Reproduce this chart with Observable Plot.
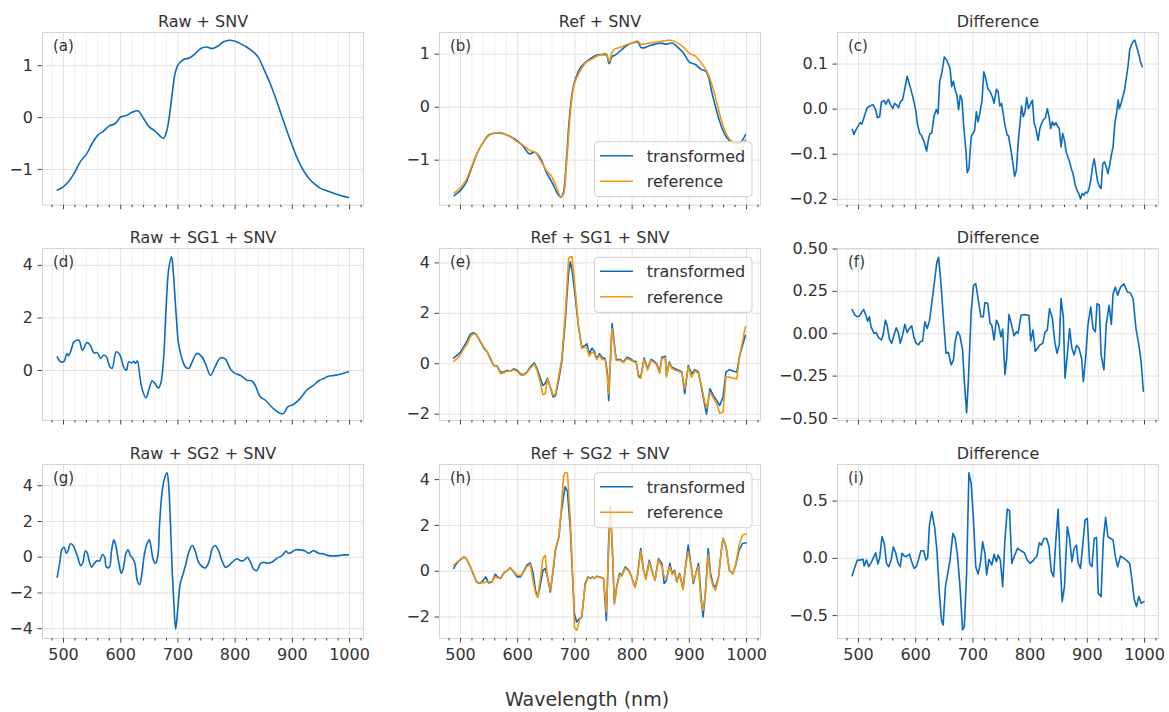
<!DOCTYPE html>
<html>
<head>
<meta charset="utf-8">
<script src="https://cdn.jsdelivr.net/npm/d3@7"></script>
<script src="https://cdn.jsdelivr.net/npm/@observablehq/plot@0.6"></script>
<style>
  body { margin: 0; background: #fff; }
  #wrap { position: relative; width: 1169px; height: 712px; overflow: hidden; background: #fff; font-family: "DejaVu Sans", sans-serif; color: #333; }
  #overlay { position: absolute; left: 0; top: 0; pointer-events: none; }
</style>
</head>
<body>
<div id="wrap"></div>
<script>
// ---------------- DATA ----------------
const titles = ["Raw + SNV", "Ref + SNV", "Difference",
                "Raw + SG1 + SNV", "Ref + SG1 + SNV", "Difference",
                "Raw + SG2 + SNV", "Ref + SG2 + SNV", "Difference"];
const panelLabels = ["(a)", "(b)", "(c)", "(d)", "(e)", "(f)", "(g)", "(h)", "(i)"];
const seriesNames = ["transformed", "reference"];
const xMajorTicks = [500, 600, 700, 800, 900, 1000];
const xMinorTicks = [480, 520, 540, 560, 580, 620, 640, 660, 680, 720, 740, 760, 780, 820, 840, 860, 880, 920, 940, 960, 980, 1020];
const xLabel = "Wavelength (nm)";

// (a) Raw + SNV : [nm, value]
const rawSNV = [[489,-1.40],[500,-1.33],[510,-1.22],[520,-1.05],[530,-0.84],[540,-0.71],[550,-0.50],[560,-0.34],[570,-0.26],[580,-0.16],[590,-0.12],[600,0.01],[610,0.04],[620,0.10],[630,0.13],[640,-0.02],[650,-0.18],[660,-0.26],[670,-0.37],[675,-0.40],[680,-0.28],[685,0.02],[690,0.46],[695,0.85],[700,1.01],[710,1.12],[720,1.15],[730,1.23],[740,1.33],[750,1.36],[760,1.33],[770,1.38],[780,1.46],[790,1.49],[800,1.47],[810,1.42],[820,1.36],[830,1.28],[840,1.17],[850,0.94],[860,0.69],[870,0.40],[880,0.08],[890,-0.24],[900,-0.54],[910,-0.82],[920,-1.03],[930,-1.19],[940,-1.29],[950,-1.37],[960,-1.41],[970,-1.45],[980,-1.49],[990,-1.52],[998,-1.54]];

// (b) Ref + SNV : [nm, transformed, reference]
const refSNV = [[489,-1.67,-1.62],[500,-1.57,-1.52],[510,-1.42,-1.37],[520,-1.13,-1.10],[530,-0.85,-0.85],[540,-0.66,-0.66],[550,-0.52,-0.53],[560,-0.49,-0.49],[570,-0.49,-0.48],[580,-0.52,-0.52],[590,-0.57,-0.58],[600,-0.64,-0.66],[610,-0.74,-0.72],[620,-0.88,-0.81],[630,-0.85,-0.85],[640,-0.97,-1.01],[650,-1.23,-1.19],[660,-1.42,-1.32],[670,-1.64,-1.57],[675,-1.70,-1.69],[680,-1.60,-1.64],[685,-1.01,-1.13],[690,-0.25,-0.38],[695,0.25,0.19],[700,0.50,0.47],[710,0.75,0.70],[720,0.86,0.85],[730,0.94,0.91],[740,0.99,0.97],[750,0.99,1.01],[755,0.99,1.01],[760,0.82,0.86],[765,0.96,1.04],[770,0.98,1.10],[780,1.07,1.13],[790,1.16,1.18],[800,1.21,1.21],[810,1.23,1.25],[815,1.13,1.19],[820,1.12,1.19],[830,1.16,1.21],[840,1.19,1.23],[850,1.21,1.24],[860,1.19,1.26],[870,1.21,1.26],[880,1.13,1.21],[890,1.02,1.13],[900,0.85,1.02],[910,0.81,0.97],[920,0.72,0.85],[930,0.66,0.69],[940,0.25,0.41],[950,-0.16,0.00],[960,-0.47,-0.38],[970,-0.63,-0.60],[980,-0.68,-0.69],[990,-0.66,-0.81],[998,-0.52,-0.62]];

// (c) Difference SNV : [nm, value]
const diffSNV = [[489,-0.045],[492,-0.056],[495,-0.047],[500,-0.036],[503,-0.030],[506,-0.033],[510,-0.017],[515,0.003],[520,0.007],[525,0.010],[530,-0.001],[533,-0.019],[537,-0.017],[540,0.016],[545,0.019],[548,0.011],[552,0.022],[556,0.010],[560,0.001],[563,0.013],[567,0.009],[570,0.003],[573,0.016],[577,0.021],[580,0.039],[585,0.073],[590,0.051],[595,0.027],[600,-0.002],[603,-0.032],[607,-0.054],[610,-0.058],[615,-0.073],[619,-0.093],[622,-0.069],[625,-0.054],[628,-0.053],[632,-0.016],[636,-0.001],[639,-0.010],[642,0.061],[646,0.083],[650,0.116],[655,0.107],[660,0.090],[663,0.050],[666,0.062],[669,0.042],[672,0.031],[675,-0.001],[678,0.031],[681,0.020],[684,-0.039],[688,-0.095],[690,-0.141],[693,-0.132],[697,-0.061],[700,-0.054],[703,-0.047],[706,-0.006],[709,-0.028],[712,-0.010],[716,0.020],[719,0.083],[722,0.070],[726,0.046],[730,0.039],[734,0.027],[737,0.013],[741,0.044],[744,0.039],[747,0.007],[750,0.013],[753,-0.010],[756,-0.036],[760,-0.058],[762,-0.058],[766,-0.087],[770,-0.121],[773,-0.149],[776,-0.136],[779,-0.076],[782,-0.036],[785,0.007],[788,-0.017],[791,-0.006],[794,0.026],[797,0.001],[800,0.009],[804,0.020],[807,-0.030],[810,-0.043],[814,-0.069],[817,-0.043],[820,-0.032],[823,-0.024],[827,-0.019],[830,0.001],[833,-0.016],[836,-0.043],[839,-0.028],[842,-0.036],[845,-0.030],[848,-0.038],[851,-0.043],[854,-0.084],[857,-0.054],[860,-0.069],[863,-0.095],[866,-0.106],[869,-0.117],[872,-0.132],[875,-0.143],[879,-0.169],[882,-0.180],[885,-0.187],[888,-0.199],[891,-0.187],[894,-0.191],[897,-0.184],[900,-0.186],[903,-0.176],[906,-0.158],[909,-0.128],[912,-0.110],[915,-0.136],[918,-0.161],[921,-0.171],[924,-0.176],[927,-0.121],[930,-0.117],[933,-0.128],[936,-0.143],[939,-0.124],[942,-0.102],[945,-0.084],[948,-0.032],[951,-0.010],[954,0.020],[956,0.001],[959,0.013],[962,0.027],[965,0.042],[968,0.068],[971,0.094],[974,0.131],[977,0.142],[980,0.150],[983,0.153],[986,0.139],[989,0.127],[993,0.105],[996,0.094]];

// (d) Raw + SG1 + SNV
const rawSG1 = [[489,0.52],[495,0.33],[501,0.35],[506,0.65],[509,0.56],[515,0.90],[518,1.09],[527,1.15],[533,0.77],[541,1.06],[547,0.96],[553,0.67],[559,0.68],[565,0.46],[570,0.58],[575,0.52],[581,0.14],[585,0.08],[592,0.71],[597,0.65],[601,0.46],[605,0.14],[610,0.01],[614,0.33],[619,0.29],[623,0.35],[626,0.27],[629,0.37],[634,-0.30],[638,-0.75],[644,-1.04],[650,-0.68],[655,-0.39],[659,-0.47],[666,-0.66],[670,-0.49],[675,0.46],[679,2.23],[684,3.87],[689,4.32],[691,4.00],[697,2.10],[701,1.03],[707,0.46],[713,0.14],[719,0.08],[725,0.33],[733,0.65],[742,0.52],[748,0.27],[757,-0.18],[765,0.14],[774,0.48],[783,0.43],[792,0.05],[800,-0.11],[809,-0.18],[821,-0.37],[829,-0.39],[835,-0.56],[844,-1.00],[853,-1.13],[861,-1.32],[870,-1.51],[879,-1.63],[885,-1.63],[892,-1.38],[902,-1.29],[914,-1.06],[925,-0.75],[937,-0.56],[946,-0.39],[955,-0.30],[963,-0.22],[972,-0.19],[984,-0.14],[998,-0.05]];

// (e) Ref + SG1 + SNV : [nm, transformed, reference]
const refSG1 = [[488,0.23,0.09],[494,0.33,0.20],[500,0.46,0.36],[506,0.69,0.60],[512,0.93,0.79],[517,1.17,1.06],[523,1.23,1.19],[528,1.15,1.15],[535,0.86,0.89],[541,0.62,0.66],[547,0.46,0.46],[552,0.20,0.26],[558,-0.07,-0.07],[564,-0.09,-0.12],[570,-0.33,-0.40],[576,-0.33,-0.36],[581,-0.26,-0.30],[587,-0.30,-0.30],[593,-0.20,-0.24],[599,-0.26,-0.30],[605,-0.40,-0.44],[610,-0.44,-0.46],[616,-0.33,-0.36],[622,-0.13,-0.18],[629,0.04,-0.02],[634,-0.20,-0.28],[640,-0.60,-0.79],[644,-0.86,-1.23],[648,-0.79,-1.19],[652,-0.57,-0.60],[657,-0.93,-0.93],[662,-1.32,-1.26],[666,-1.26,-1.19],[672,-0.60,-0.46],[677,0.07,0.20],[683,1.66,1.92],[689,3.64,4.17],[692,4.04,4.24],[695,3.71,4.24],[701,2.58,2.85],[706,1.52,1.52],[712,0.66,0.60],[718,0.73,0.66],[721,0.79,0.62],[725,0.40,0.30],[730,0.62,0.46],[734,0.49,0.40],[738,0.20,0.17],[743,0.40,0.33],[747,0.26,0.17],[753,0.20,0.16],[757,-0.40,-0.60],[759,-1.46,-1.19],[765,1.59,1.39],[772,0.17,0.13],[779,0.17,0.13],[785,0.07,0.05],[791,0.26,0.20],[797,0.20,0.15],[802,0.11,0.08],[807,0.09,0.05],[811,-0.46,-0.53],[815,-0.53,-0.58],[821,0.23,0.17],[827,-0.20,-0.26],[833,0.17,0.12],[838,0.11,0.06],[843,0.00,-0.05],[848,-0.33,-0.38],[852,0.26,0.20],[858,0.30,0.24],[860,-0.46,-0.52],[865,0.07,0.02],[869,-0.13,-0.18],[875,-0.20,-0.25],[881,-0.26,-0.30],[887,-0.33,-0.36],[892,-1.19,-0.99],[898,-0.07,-0.13],[904,-0.40,-0.53],[910,-0.23,-0.28],[916,-0.33,-0.38],[921,-0.93,-0.85],[927,-1.66,-1.52],[930,-1.99,-1.76],[936,-0.99,-1.13],[942,-1.26,-1.36],[948,-1.46,-1.59],[953,-1.66,-1.96],[959,-1.32,-1.92],[964,-0.33,-0.53],[970,-0.23,-0.53],[977,-0.30,-0.57],[983,-0.33,-0.60],[988,0.33,0.33],[998,1.13,1.46]];

// (f) Difference SG1
const diffSG1 = [[489,0.143],[493,0.113],[498,0.100],[502,0.105],[506,0.129],[509,0.143],[513,0.109],[516,0.074],[519,0.100],[522,0.041],[527,0.002],[531,0.008],[535,-0.023],[540,-0.037],[543,-0.008],[547,0.080],[550,0.051],[554,-0.031],[558,-0.057],[562,-0.008],[566,0.035],[570,0.002],[573,-0.057],[577,-0.008],[581,0.055],[585,0.008],[589,0.031],[593,0.047],[597,-0.023],[601,-0.057],[605,-0.066],[608,-0.047],[612,-0.043],[616,0.070],[620,0.031],[624,0.074],[628,0.178],[633,0.314],[637,0.422],[640,0.451],[644,0.305],[648,0.109],[653,-0.115],[657,-0.109],[662,-0.184],[666,-0.154],[669,-0.047],[673,0.012],[677,-0.008],[682,-0.096],[685,-0.281],[689,-0.467],[692,-0.281],[697,0.129],[701,0.285],[705,0.295],[709,0.207],[714,0.100],[718,0.100],[721,0.184],[726,0.178],[730,0.061],[733,0.051],[737,-0.037],[741,0.080],[745,0.051],[749,-0.018],[752,0.027],[756,-0.242],[759,-0.145],[763,0.113],[767,0.061],[772,-0.012],[776,0.012],[779,0.002],[784,0.109],[790,0.113],[795,0.109],[798,0.109],[801,-0.043],[805,0.021],[809,-0.105],[813,-0.086],[817,-0.066],[822,-0.057],[826,0.008],[830,0.021],[834,0.148],[839,0.090],[843,-0.047],[847,-0.115],[851,-0.066],[854,0.207],[858,0.100],[861,-0.262],[865,-0.125],[869,0.031],[873,-0.086],[877,-0.125],[881,-0.070],[885,-0.082],[890,-0.145],[893,-0.281],[897,-0.145],[901,0.051],[906,0.158],[910,0.031],[914,0.012],[917,0.178],[921,0.168],[924,-0.125],[929,-0.213],[933,0.051],[938,0.168],[942,0.055],[945,0.236],[949,0.275],[953,0.227],[958,0.275],[964,0.295],[970,0.246],[975,0.242],[980,0.207],[985,0.031],[990,-0.066],[994,-0.164],[998,-0.340]];

// (g) Raw + SG2 + SNV
const rawSG2 = [[489,-1.12],[494,-0.19],[497,0.43],[501,0.56],[505,0.22],[508,0.37],[512,0.75],[517,0.66],[521,0.34],[525,0.00],[530,-0.47],[534,-0.28],[538,0.34],[541,0.28],[545,-0.22],[549,-0.56],[554,-0.34],[559,-0.19],[563,-0.22],[568,0.15],[572,0.00],[575,-0.56],[580,-0.56],[584,0.37],[588,0.97],[592,0.56],[597,-0.37],[601,-0.90],[605,-0.56],[609,0.19],[613,0.41],[617,0.09],[621,-0.06],[625,-0.37],[629,-1.31],[633,-1.54],[637,-0.94],[641,0.09],[646,0.75],[650,0.97],[653,0.56],[657,-0.15],[661,-0.34],[665,0.09],[668,1.87],[672,3.56],[676,4.34],[681,4.72],[684,3.93],[687,1.87],[690,-0.75],[693,-2.62],[696,-4.03],[700,-2.81],[704,-1.50],[709,-0.94],[714,-0.37],[719,0.28],[725,0.66],[730,0.37],[736,-0.28],[742,-0.52],[748,-0.60],[754,-0.28],[760,0.47],[765,0.66],[771,0.37],[777,-0.19],[783,-0.56],[789,-0.47],[795,-0.28],[803,-0.09],[809,-0.19],[815,-0.19],[821,0.00],[827,-0.28],[832,-0.66],[838,-0.75],[844,-0.37],[850,-0.28],[856,-0.34],[864,-0.28],[873,-0.06],[882,0.09],[889,0.34],[893,0.22],[899,0.28],[905,0.41],[914,0.41],[923,0.34],[928,0.22],[937,0.37],[946,0.22],[954,0.19],[963,0.09],[972,0.07],[981,0.09],[990,0.13],[998,0.13]];

// (h) Ref + SG2 + SNV : [nm, transformed, reference]
const refSG2 = [[488,0.12,0.26],[494,0.36,0.41],[500,0.51,0.53],[506,0.63,0.63],[510,0.55,0.56],[516,0.26,0.28],[522,-0.10,-0.07],[528,-0.47,-0.45],[534,-0.54,-0.52],[540,-0.39,-0.50],[544,-0.25,-0.47],[549,-0.51,-0.47],[555,-0.47,-0.45],[561,-0.13,-0.23],[565,-0.25,-0.30],[570,-0.32,-0.30],[576,-0.07,-0.05],[581,0.01,0.03],[587,0.15,0.13],[593,-0.03,-0.01],[599,-0.25,-0.17],[605,-0.25,-0.20],[610,-0.03,-0.05],[616,0.26,0.20],[622,0.36,0.30],[627,-0.10,-0.45],[631,-0.83,-0.95],[635,-1.12,-1.15],[640,-0.54,-0.25],[644,0.04,0.55],[648,0.12,0.70],[652,-0.25,-0.25],[657,-0.91,-0.83],[662,0.04,0.12],[666,0.92,0.99],[672,1.50,1.50],[676,2.53,2.67],[680,3.26,4.13],[683,3.69,4.31],[687,3.47,4.28],[692,1.80,2.23],[697,-0.83,-0.69],[699,-1.85,-2.44],[703,-2.22,-2.58],[708,-2.07,-2.15],[712,-2.00,-1.93],[718,-0.54,-0.60],[723,-0.25,-0.28],[727,-0.32,-0.30],[731,-0.25,-0.27],[734,-0.32,-0.30],[738,-0.22,-0.24],[744,-0.25,-0.27],[750,-0.32,-0.30],[755,-2.15,-1.78],[759,1.36,1.10],[762,2.82,2.67],[765,1.21,1.30],[769,-1.42,-1.40],[773,-0.69,-0.72],[778,-0.10,-0.16],[782,-0.18,-0.22],[788,0.19,0.14],[794,0.04,0.00],[799,-0.25,-0.25],[805,-0.69,-0.72],[809,-0.25,-0.28],[815,0.99,0.87],[820,0.04,0.02],[824,-0.32,-0.36],[830,0.48,0.40],[836,-0.10,-0.12],[840,-0.39,-0.40],[846,0.55,0.50],[852,0.34,0.20],[856,-0.54,-0.25],[860,-0.39,-0.30],[866,0.34,0.20],[870,-0.10,-0.15],[874,0.04,0.00],[878,-0.47,-0.45],[883,-0.10,-0.15],[889,-0.76,-0.80],[894,0.34,0.30],[898,1.14,0.85],[903,0.26,0.30],[907,-0.54,-0.45],[912,-0.03,-0.05],[916,0.34,0.20],[920,-0.98,-1.25],[924,-2.00,-1.71],[928,-0.98,-1.00],[933,0.99,0.70],[937,-0.10,-0.25],[942,-0.61,-0.70],[946,-0.69,-0.83],[951,-0.25,-0.28],[956,0.92,0.90],[959,1.43,1.45],[964,1.07,1.10],[970,0.04,0.02],[976,-0.10,-0.12],[981,0.26,0.30],[987,0.92,1.14],[993,1.21,1.58],[999,1.24,1.62]];

// (i) Difference SG2
const diffSG2 = [[489,-0.151],[493,-0.087],[498,-0.015],[503,-0.015],[508,-0.009],[510,-0.067],[514,-0.015],[518,-0.073],[522,-0.038],[527,0.015],[530,0.049],[534,-0.049],[537,0.000],[541,0.189],[545,0.131],[549,-0.044],[553,-0.073],[557,-0.015],[561,0.102],[565,0.049],[569,-0.038],[573,-0.073],[576,0.044],[580,0.020],[584,0.015],[589,0.038],[593,-0.029],[597,-0.087],[601,-0.073],[605,-0.009],[609,0.067],[614,0.067],[618,-0.015],[621,0.009],[624,0.291],[628,0.407],[633,0.276],[637,0.073],[641,-0.276],[645,-0.538],[648,-0.581],[652,-0.247],[656,-0.131],[660,-0.015],[665,0.218],[669,0.174],[673,0.029],[677,-0.218],[682,-0.625],[685,-0.596],[689,-0.131],[693,0.747],[697,0.654],[701,0.334],[705,-0.073],[709,-0.137],[713,-0.044],[717,0.145],[721,0.044],[724,-0.145],[728,-0.009],[733,-0.058],[737,0.035],[741,-0.029],[744,0.029],[748,-0.015],[752,-0.247],[756,0.160],[760,0.430],[764,0.416],[768,-0.044],[772,0.015],[778,0.087],[784,0.067],[790,0.049],[795,-0.015],[800,-0.044],[806,-0.015],[812,0.020],[816,0.137],[820,0.116],[824,0.174],[829,0.174],[833,0.102],[837,-0.116],[841,-0.160],[845,0.160],[849,0.430],[852,0.029],[856,-0.378],[860,-0.247],[865,0.276],[869,0.174],[873,-0.029],[877,0.087],[881,0.116],[884,-0.038],[888,-0.087],[892,0.116],[896,0.334],[900,0.349],[904,-0.044],[908,-0.073],[912,0.174],[916,0.183],[919,-0.305],[924,-0.334],[928,0.160],[932,0.358],[936,0.189],[941,0.174],[945,0.160],[949,0.015],[953,-0.073],[958,0.020],[964,0.000],[968,-0.015],[974,-0.044],[978,-0.189],[982,-0.358],[986,-0.422],[990,-0.334],[994,-0.392],[999,-0.378]];

// y tick values per panel
const yTicksA = [-1, 0, 1];
const yTicksB = [-1, 0, 1];
const yTicksC = [-0.2, -0.1, 0, 0.1];
const yTicksD = [0, 2, 4];
const yTicksE = [-2, 0, 2, 4];
const yTicksF = [-0.5, -0.25, 0, 0.25, 0.5];
const yTicksG = [-4, -2, 0, 2, 4];
const yTicksH = [-2, 0, 2, 4];
const yTicksI = [-0.5, 0, 0.5];

// ---------------- STYLE / LAYOUT ----------------
const BLUE = "#0a6bc0";
const ORANGE = "#f2950f";
const FONT = "DejaVu Sans";
const FW = 321;
const colLeft = [42, 439.3, 836.7];
const rowTop = [32.3, 248.3, 464.3];
const rowH = [172.7, 172, 174];
const ML = 60, MR = 6, MT = 34, MB = 30;
const xDomain = [463.3, 1024.4];

const minus = s => s.replace("-", "\u2212");
const fmtInt = d => minus(String(d));
const fmt1 = d => minus(d3.format(".1f")(d));
const fmt2 = d => minus(d3.format(".2f")(d));

const panels = [
  {data: rawSNV, dual: false, yDomain: [-1.69, 1.64], yTicks: yTicksA, fmt: fmtInt, curve: "catmull-rom"},
  {data: refSNV, dual: true, yDomain: [-1.85, 1.41], yTicks: yTicksB, fmt: fmtInt, curve: "catmull-rom"},
  {data: diffSNV, dual: false, yDomain: [-0.213, 0.170], yTicks: yTicksC, fmt: fmt1, curve: "linear"},
  {data: rawSG1, dual: false, yDomain: [-1.90, 4.64], yTicks: yTicksD, fmt: fmtInt, curve: "catmull-rom"},
  {data: refSG1, dual: true, yDomain: [-2.25, 4.57], yTicks: yTicksE, fmt: fmtInt, curve: "linear"},
  {data: diffSG1, dual: false, yDomain: [-0.512, 0.503], yTicks: yTicksF, fmt: fmt2, curve: "linear"},
  {data: rawSG2, dual: false, yDomain: [-4.55, 5.19], yTicks: yTicksG, fmt: fmtInt, curve: "catmull-rom"},
  {data: refSG2, dual: true, yDomain: [-2.94, 4.66], yTicks: yTicksH, fmt: fmtInt, curve: "linear"},
  {data: diffSG2, dual: false, yDomain: [-0.70, 0.82], yTicks: yTicksI, fmt: fmt1, curve: "linear"}
];

const wrap = document.getElementById("wrap");

panels.forEach((p, i) => {
  const r = Math.floor(i / 3), c = i % 3;
  const h = rowH[r];
  const marks = [
    Plot.gridX(xMinorTicks, {stroke: "#efefef", strokeOpacity: 1, strokeWidth: 0.9}),
    Plot.gridX(xMajorTicks, {stroke: "#e2e2e2", strokeOpacity: 1, strokeWidth: 1}),
    Plot.gridY(p.yTicks, {stroke: "#e2e2e2", strokeOpacity: 1, strokeWidth: 1}),
    Plot.frame({stroke: "#d5d5d5", strokeWidth: 1}),
    Plot.axisX(xMinorTicks, {tickSize: 2.5, fill: "none", stroke: "#444", label: null}),
    Plot.axisX(xMajorTicks, {tickSize: 4.5, tickPadding: 6, stroke: "#444", fill: r === 2 ? "#333" : "none",
      tickFormat: fmtInt, label: null, fontSize: 16}),
    Plot.axisY(p.yTicks, {tickSize: 4.5, tickPadding: 5, stroke: "#444", fill: "#333", tickFormat: p.fmt, label: null, fontSize: 16}),
    Plot.line(p.data, {x: d => d[0], y: d => d[1], stroke: BLUE, strokeWidth: 1.6, curve: p.curve})
  ];
  if (p.dual) {
    marks.push(Plot.line(p.data, {x: d => d[0], y: d => d[2], stroke: ORANGE, strokeWidth: 1.6, curve: p.curve}));
  }
  marks.push(
    Plot.text([titles[i]], {text: d => d, frameAnchor: "top", dy: -5.5, lineAnchor: "bottom", fontSize: 16, fill: "#333"}),
    Plot.text([panelLabels[i]], {text: d => d, frameAnchor: "top-left", dx: 10.5, dy: 7.5, lineAnchor: "top", textAnchor: "start", fontSize: 15, fill: "#333"})
  );
  const svg = Plot.plot({
    width: ML + FW + MR,
    height: MT + h + MB,
    marginLeft: ML, marginRight: MR, marginTop: MT, marginBottom: MB,
    style: {fontFamily: FONT, fontSize: "16px", color: "#333", background: "transparent", overflow: "visible"},
    x: {domain: xDomain, label: null},
    y: {domain: p.yDomain, label: null},
    marks
  });
  svg.style.position = "absolute";
  svg.style.left = (colLeft[c] - ML) + "px";
  svg.style.top = (rowTop[r] - MT) + "px";
  wrap.appendChild(svg);
});

// ---------------- overlay: legends + shared x label ----------------
const ov = d3.select(wrap).append("svg")
  .attr("id", "overlay").attr("width", 1169).attr("height", 712)
  .style("font-family", FONT);

const legendTops = [141.7, 257.3, 472.7];
legendTops.forEach(t => {
  const g = ov.append("g");
  g.append("rect").attr("x", 594.5).attr("y", t).attr("width", 157.5).attr("height", 55)
    .attr("rx", 3.5).attr("fill", "#fff").attr("fill-opacity", 0.8).attr("stroke", "#cfcfcf").attr("stroke-width", 1);
  [BLUE, ORANGE].forEach((col, k) => {
    const y = t + 14 + k * 25.5;
    g.append("line").attr("x1", 600).attr("x2", 633).attr("y1", y).attr("y2", y)
      .attr("stroke", col).attr("stroke-width", 1.6);
    g.append("text").attr("x", 646.7).attr("y", y + 6).attr("font-size", 16).attr("fill", "#333")
      .text(seriesNames[k]);
  });
});

ov.append("text").attr("x", 587).attr("y", 705.5).attr("text-anchor", "middle")
  .attr("font-size", 19).attr("fill", "#333").text(xLabel);
</script>
</body>
</html>
